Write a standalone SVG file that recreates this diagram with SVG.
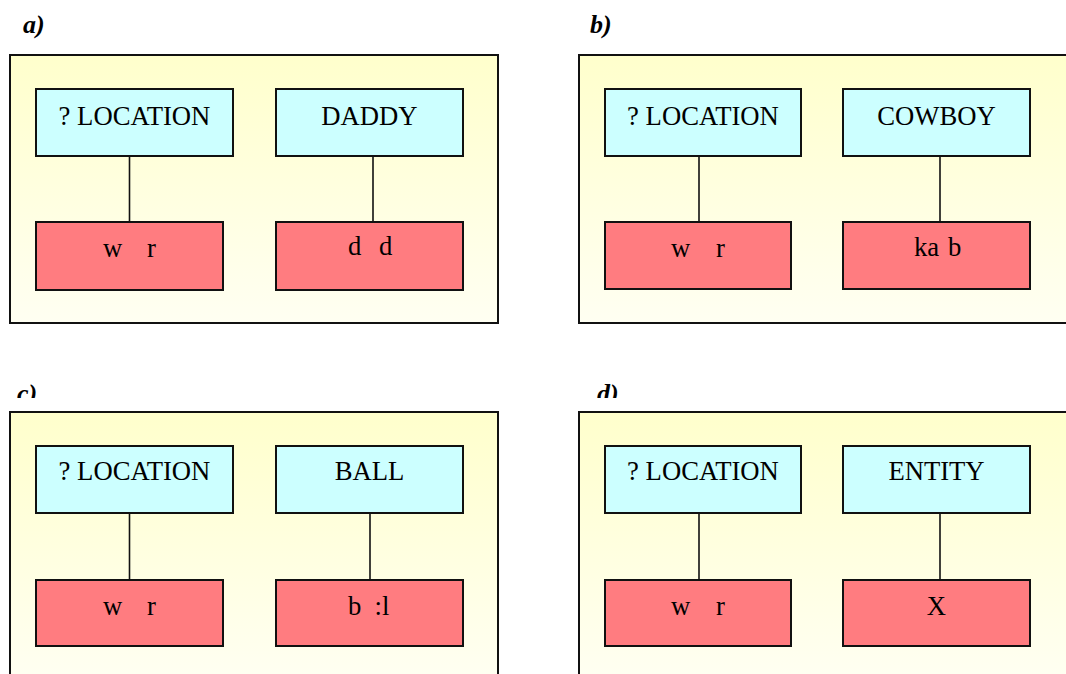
<svg xmlns="http://www.w3.org/2000/svg" width="1066" height="674" viewBox="0 0 1066 674">
<defs>
<linearGradient id="bg" x1="0" y1="0" x2="0" y2="1">
<stop offset="0" stop-color="#FFFFCC"/>
<stop offset="1" stop-color="#FFFFF2"/>
</linearGradient>
<clipPath id="clipLbl"><rect x="0" y="370" width="1066" height="28"/></clipPath>
</defs>
<style>
.panel{fill:url(#bg);stroke:#111;stroke-width:2}
.cls{fill:#CCFFFF;stroke:#111;stroke-width:2}
.word{fill:#FF7C80;stroke:#111;stroke-width:2}
.t{font-family:"Liberation Serif","Times New Roman",serif;font-size:26.67px;fill:#000}
.c{text-anchor:middle}
.lbl{font-family:"Liberation Serif","Times New Roman",serif;font-size:26px;font-weight:bold;font-style:italic;fill:#000}
.conn line{stroke:#111;stroke-width:1.6}
</style>
<rect width="1066" height="674" fill="#fff"/>

<g id="labels">
<text class="lbl" x="23" y="33">a)</text>
<text class="lbl" x="590" y="33">b)</text>
<g clip-path="url(#clipLbl)">
<text class="lbl" x="17" y="402">c)</text>
<text class="lbl" x="597" y="402">d)</text>
</g>
</g>

<g id="panel-a">
<rect class="panel" x="10" y="55" width="488" height="268"/>
</g>
<g id="panel-b">
<rect class="panel" x="579" y="55" width="500" height="268"/>
</g>
<g id="panel-c">
<rect class="panel" x="10" y="412" width="488" height="268"/>
</g>
<g id="panel-d">
<rect class="panel" x="579" y="412" width="500" height="268"/>
</g>

<g class="conn" id="connectors">
<line x1="129.5" y1="156" x2="129.5" y2="222"/>
<line x1="373" y1="156" x2="373" y2="222"/>
<line x1="699" y1="156" x2="699" y2="222"/>
<line x1="940" y1="156" x2="940" y2="222"/>
<line x1="129.5" y1="513" x2="129.5" y2="580"/>
<line x1="370" y1="510" x2="370" y2="580"/>
<line x1="699" y1="513" x2="699" y2="580"/>
<line x1="940" y1="513" x2="940" y2="580"/>
</g>

<g id="a-loc"><rect class="cls" x="36" y="89" width="197" height="67"/><text class="t c" x="134.5" y="125">? LOCATION</text></g>
<g id="a-daddy"><rect class="cls" x="276" y="89" width="187" height="67"/><text class="t c" x="369.5" y="125">DADDY</text></g>
<g id="a-wr"><rect class="word" x="36" y="222" width="187" height="68"/><text class="t"><tspan x="103" y="257">w</tspan><tspan x="147" y="257">r</tspan></text></g>
<g id="a-dd"><rect class="word" x="276" y="222" width="187" height="68"/><text class="t"><tspan x="348" y="255">d</tspan><tspan x="379" y="255">d</tspan></text></g>

<g id="b-loc"><rect class="cls" x="605" y="89" width="196" height="67"/><text class="t c" x="703" y="125">? LOCATION</text></g>
<g id="b-cowboy"><rect class="cls" x="843" y="89" width="187" height="67"/><text class="t c" x="936.5" y="125">COWBOY</text></g>
<g id="b-wr"><rect class="word" x="605" y="222" width="186" height="67"/><text class="t"><tspan x="671" y="257">w</tspan><tspan x="716" y="257">r</tspan></text></g>
<g id="b-kab"><rect class="word" x="843" y="222" width="187" height="67"/><text class="t"><tspan x="914" y="256">ka</tspan><tspan x="948" y="256">b</tspan></text></g>

<g id="c-loc"><rect class="cls" x="36" y="446" width="197" height="67"/><text class="t c" x="134.5" y="480">? LOCATION</text></g>
<g id="c-ball"><rect class="cls" x="276" y="446" width="187" height="67"/><text class="t c" x="369.5" y="480">BALL</text></g>
<g id="c-wr"><rect class="word" x="36" y="580" width="187" height="66"/><text class="t"><tspan x="103" y="615">w</tspan><tspan x="147" y="615">r</tspan></text></g>
<g id="c-bl"><rect class="word" x="276" y="580" width="187" height="66"/><text class="t"><tspan x="348" y="615">b</tspan><tspan x="374.5" y="615">:l</tspan></text></g>

<g id="d-loc"><rect class="cls" x="605" y="446" width="196" height="67"/><text class="t c" x="703" y="480">? LOCATION</text></g>
<g id="d-entity"><rect class="cls" x="843" y="446" width="187" height="67"/><text class="t c" x="936.5" y="480">ENTITY</text></g>
<g id="d-wr"><rect class="word" x="605" y="580" width="186" height="66"/><text class="t"><tspan x="671" y="615">w</tspan><tspan x="716" y="615">r</tspan></text></g>
<g id="d-x"><rect class="word" x="843" y="580" width="187" height="66"/><text class="t c" x="936.5" y="615">X</text></g>
</svg>
